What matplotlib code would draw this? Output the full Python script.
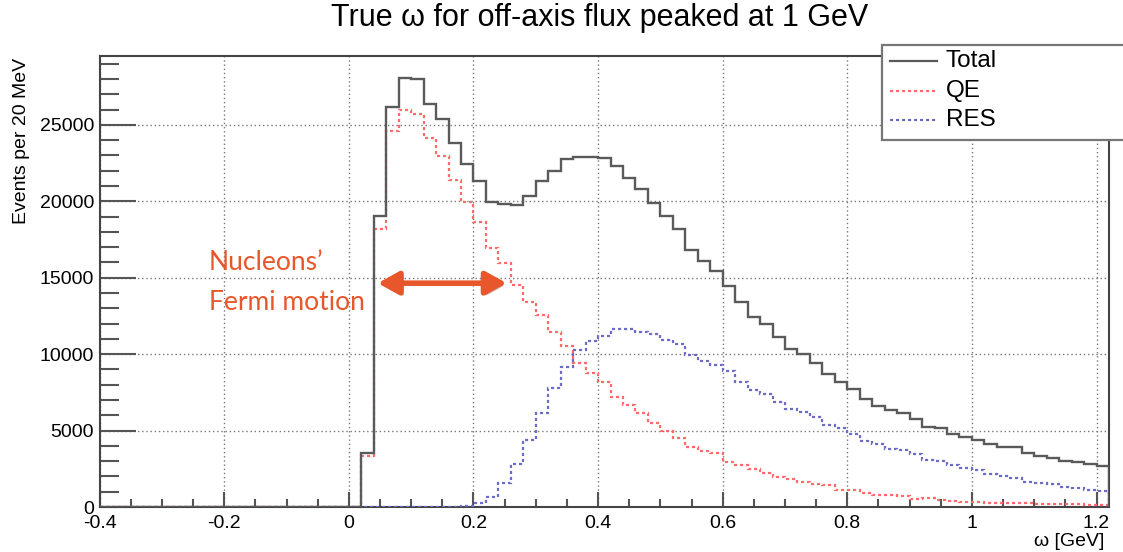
import matplotlib.pyplot as plt
import matplotlib.patheffects as pe
from matplotlib.lines import Line2D
from matplotlib.patches import Rectangle
import numpy as np

# binning: 20 MeV bins from -0.4 to 1.22 GeV
x_lo, x_hi, bin_w = -0.4, 1.22, 0.02
n_empty = 21  # bins below 0.02 GeV are empty

# events per bin, starting at 0.02 GeV
total = [3530, 19040, 26170, 28080, 27970, 26380, 25360, 23810, 22420, 21330,
         19960, 19850, 19780, 20350, 21330, 21960, 22750, 22900, 22900, 22830,
         22290, 21520, 20780, 19890, 19020, 18190, 16800, 16100, 15430, 14440,
         13420, 12440, 11960, 11130, 10330, 10000, 9430, 8670, 8190, 7690,
         7040, 6620, 6360, 6180, 5730, 5250, 5190, 4770, 4550, 4380,
         4120, 3900, 3900, 3510, 3360, 3200, 3010, 2940, 2810, 2680]
qe = [3350, 18170, 24580, 25950, 25730, 24140, 22940, 21420, 19960, 18650,
      16950, 15930, 14550, 13420, 12540, 11420, 10550, 9430, 8780, 8170,
      7210, 6670, 6170, 5470, 4990, 4530, 3940, 3660, 3560, 2960,
      2750, 2460, 2200, 1980, 1850, 1660, 1500, 1420, 1110, 1110,
      890, 780, 780, 690, 520, 610, 460, 390, 350, 330,
      280, 260, 240, 240, 200, 170, 170, 170, 160, 160]
res = [0, 0, 0, 0, 0, 0, 0, 0, 60, 280,
       680, 1590, 2790, 4400, 6180, 7760, 9170, 10260, 10850, 11200,
       11630, 11630, 11460, 11310, 10920, 10650, 9930, 9560, 9320, 8910,
       8190, 7650, 7390, 6880, 6430, 6210, 5880, 5380, 5160, 4750,
       4330, 4120, 3820, 3750, 3460, 3070, 3010, 2750, 2530, 2420,
       2160, 2030, 1870, 1660, 1550, 1500, 1290, 1220, 1110, 1030]

labels = ['Total', 'QE', 'RES']
colors = ['#5a5a5a', '#ff6b6b', '#6b6bc8']

plt.rcParams['font.family'] = ['Liberation Sans', 'DejaVu Sans']

W, H = 1123, 552
fig = plt.figure(figsize=(W / 100, H / 100), dpi=100)
ax = fig.add_axes([99.6 / W, 1 - 507 / H, (1109 - 99.6) / W, (507 - 56) / H])

n_bins = n_empty + len(total)
edges = x_lo + bin_w * np.arange(n_bins + 1)

def full(vals):
    return np.array([0] * n_empty + vals, dtype=float)

dots = (0, (1.4, 1.3))
ax.stairs(full(total), edges, color=colors[0], lw=1.7, zorder=4)
ax.stairs(full(qe), edges, color=colors[1], lw=1.6, ls=dots, zorder=3)
ax.stairs(full(res), edges, color=colors[2], lw=1.6, ls=dots, zorder=3)

ax.set_xlim(x_lo, x_hi)
ax.set_ylim(0, 29500)
ax.set_xticks(np.arange(-0.4, 1.21, 0.2))
ax.set_xticklabels(['-0.4', '-0.2', '0', '0.2', '0.4', '0.6', '0.8', '1', '1.2'])
ax.set_xticks(np.arange(-0.4, 1.22, 0.05), minor=True)
ax.set_yticks(np.arange(0, 25001, 5000))
ax.set_yticks(np.arange(0, 29001, 1000), minor=True)

ax.grid(True, which='major', color='#777777', ls=(0, (1, 2)), lw=1.0)
ax.tick_params(axis='both', which='both', direction='in', labelsize=14,
               color='#555555', width=1.5)
ax.tick_params(axis='y', which='major', length=26, pad=4)
ax.tick_params(axis='y', which='minor', length=13.5)
ax.tick_params(axis='x', which='major', length=11, pad=6)
ax.tick_params(axis='x', which='minor', length=5.5)
for s in ax.spines.values():
    s.set_color('#444444')
    s.set_linewidth(1.5)

fig.text(600 / W, 1 - 18 / H, 'True \u03c9 for off-axis flux peaked at 1 GeV',
         ha='center', va='center', fontsize=22)
fig.text(22 / W, 1 - 58 / H, 'Events per 20 MeV', rotation=90,
         ha='center', va='top', fontsize=14)
fig.text(1104 / W, 1 - 541 / H, '\u03c9 [GeV]', ha='right', va='center', fontsize=14)

# annotation
orange = '#e8562b'
ax.text(-0.2245, 15490, 'Nucleons\u2019', color=orange, fontsize=19,
        family=['Lato', 'DejaVu Sans'], ha='left', va='baseline')
ax.text(-0.2245, 12876, 'Fermi motion', color=orange, fontsize=19,
        family=['Lato', 'DejaVu Sans'], ha='left', va='baseline')
ax.annotate('', xy=(0.2534, 14640), xytext=(0.0465, 14640),
            arrowprops=dict(arrowstyle='<|-|>,head_length=0.9,head_width=0.5',
                            color=orange, lw=4, shrinkA=0, shrinkB=0,
                            mutation_scale=14,
                            path_effects=[pe.SimplePatchShadow(offset=(2, -2), alpha=0.25),
                                          pe.Normal()]),
            zorder=6)

# legend box, ROOT style
fig.patches.append(Rectangle((882 / W, 1 - 140 / H), (1140 - 882) / W, 95 / H,
                             transform=fig.transFigure, facecolor='white',
                             edgecolor='#777777', lw=1.6, zorder=10))
for lab, col, yy, ls in zip(labels, colors, [61, 91, 120], ['-', dots, dots]):
    fig.lines.append(Line2D([890 / W, 937 / W], [1 - yy / H] * 2, transform=fig.transFigure,
                            color=col, lw=1.6, ls=ls, zorder=11))
    fig.text(946 / W, 1 - yy / H, lab, ha='left', va='center', fontsize=17.5, zorder=12)

fig.savefig('out.png', dpi=100)
plt.close(fig)
